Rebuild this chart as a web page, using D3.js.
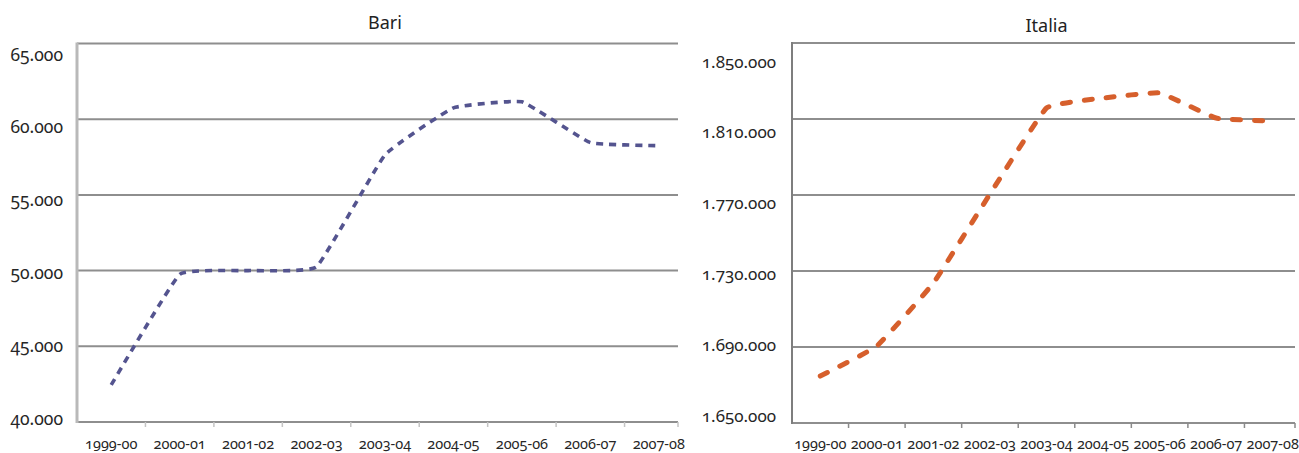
<!DOCTYPE html>
<html>
<head>
<meta charset="utf-8">
<script src="https://cdn.jsdelivr.net/npm/d3@7"></script>
<style>
  html, body { margin: 0; padding: 0; background: #fff; }
  svg { display: block; }
  .num { font-family: "Noto Sans", "Open Sans", sans-serif; font-variant-numeric: oldstyle-nums; font-feature-settings: "onum" 1; fill: #262626; }
  .title { font-family: "Noto Sans", "Open Sans", sans-serif; fill: #222; }
</style>
</head>
<body>
<svg id="chart" width="1299" height="453"></svg>
<script>
// School years on the horizontal axis
const seasons = ["1999-00", "2000-01", "2001-02", "2002-03", "2003-04", "2004-05", "2005-06", "2006-07", "2007-08"];

// Enrolled students, Bari
const bariValues = [42450, 49750, 50000, 50250, 57650, 60750, 61150, 58450, 58250];
const bariTicks = [40000, 45000, 50000, 55000, 60000, 65000];

// Enrolled students, Italia
const italiaValues = [1674700, 1690500, 1723700, 1770500, 1815800, 1821000, 1823700, 1810500, 1808900];
const italiaTicks = [1650000, 1690000, 1730000, 1770000, 1810000, 1850000];

const itLocale = d3.formatLocale({ decimal: ",", thousands: ".", grouping: [3], currency: ["€", ""] });
const fmt = itLocale.format(",d");

const svg = d3.select("#chart");

const panels = [
  {
    title: "Bari", values: bariValues, ticks: bariTicks,
    xRange: [77, 693], plotRight: 678,
    yRange: [422, 43.5], labelRange: [420, 56], labelX: 63, labelSize: 17.5,
    titleY: 29, color: "#54548f", width: 3.6, dash: "7,6", cap: "butt",
    axisColor: "#b9b9b9", axisWidth: 3, tickColor: "#c4c4c4"
  },
  {
    title: "Italia", values: italiaValues, ticks: italiaTicks,
    xRange: [792, 1301], plotRight: 1295,
    yRange: [423, 43], labelRange: [417, 63], labelX: 776, labelSize: 17,
    titleY: 32, color: "#d65f2c", width: 5, dash: "8,14", cap: "round",
    axisColor: "#7e7e7e", axisWidth: 2, tickColor: "#8a8a8a"
  }
];

panels.forEach(p => {
  const g = svg.append("g");
  const x = d3.scaleBand().domain(seasons).range(p.xRange).paddingInner(0).paddingOuter(0);
  const yMin = d3.min(p.ticks), yMax = d3.max(p.ticks);
  const y = d3.scaleLinear().domain([yMin, yMax]).range(p.yRange);
  // tick labels sit on their own, slightly tighter vertical scale
  const yLab = d3.scaleLinear().domain([yMin, yMax]).range(p.labelRange);

  // horizontal gridlines
  g.append("g").selectAll("line").data(p.ticks).join("line")
    .attr("x1", p.xRange[0]).attr("x2", p.plotRight)
    .attr("y1", d => y(d)).attr("y2", d => y(d))
    .attr("stroke", "#8e8e8e").attr("stroke-width", 2);

  // vertical axis line
  g.append("line")
    .attr("x1", p.xRange[0]).attr("x2", p.xRange[0])
    .attr("y1", y(yMax) - 1).attr("y2", y(yMin) + 1)
    .attr("stroke", p.axisColor).attr("stroke-width", p.axisWidth);

  // category tick marks on the baseline
  const bounds = seasons.map(s => x(s)).slice(1).concat([p.plotRight]);
  g.append("g").selectAll("line").data(bounds).join("line")
    .attr("x1", d => d).attr("x2", d => d)
    .attr("y1", y(yMin)).attr("y2", y(yMin) + 5)
    .attr("stroke", p.tickColor).attr("stroke-width", 1.5);

  // y tick labels
  g.append("g").selectAll("text").data(p.ticks).join("text")
    .attr("class", "num")
    .attr("x", p.labelX).attr("y", d => yLab(d))
    .attr("text-anchor", "end").attr("dominant-baseline", "middle")
    .style("font-size", p.labelSize + "px")
    .text(d => fmt(d));

  // x tick labels
  g.append("g").selectAll("text").data(seasons).join("text")
    .attr("class", "num")
    .attr("x", d => x(d) + x.bandwidth() / 2).attr("y", 449)
    .attr("text-anchor", "middle")
    .style("font-size", "14.5px")
    .text(d => d);

  // title
  g.append("text").attr("class", "title")
    .attr("x", (p.xRange[0] + p.xRange[1]) / 2).attr("y", p.titleY)
    .attr("text-anchor", "middle").style("font-size", "18px")
    .text(p.title);

  // gently smoothed dashed series line
  const line = d3.line()
    .x((d, i) => x(seasons[i]) + x.bandwidth() / 2)
    .y(d => y(d))
    .curve(d3.curveCardinal.tension(0.7));
  g.append("path").datum(p.values)
    .attr("d", line)
    .attr("fill", "none")
    .attr("stroke", p.color)
    .attr("stroke-width", p.width)
    .attr("stroke-dasharray", p.dash)
    .attr("stroke-linecap", p.cap);
});
</script>
</body>
</html>
